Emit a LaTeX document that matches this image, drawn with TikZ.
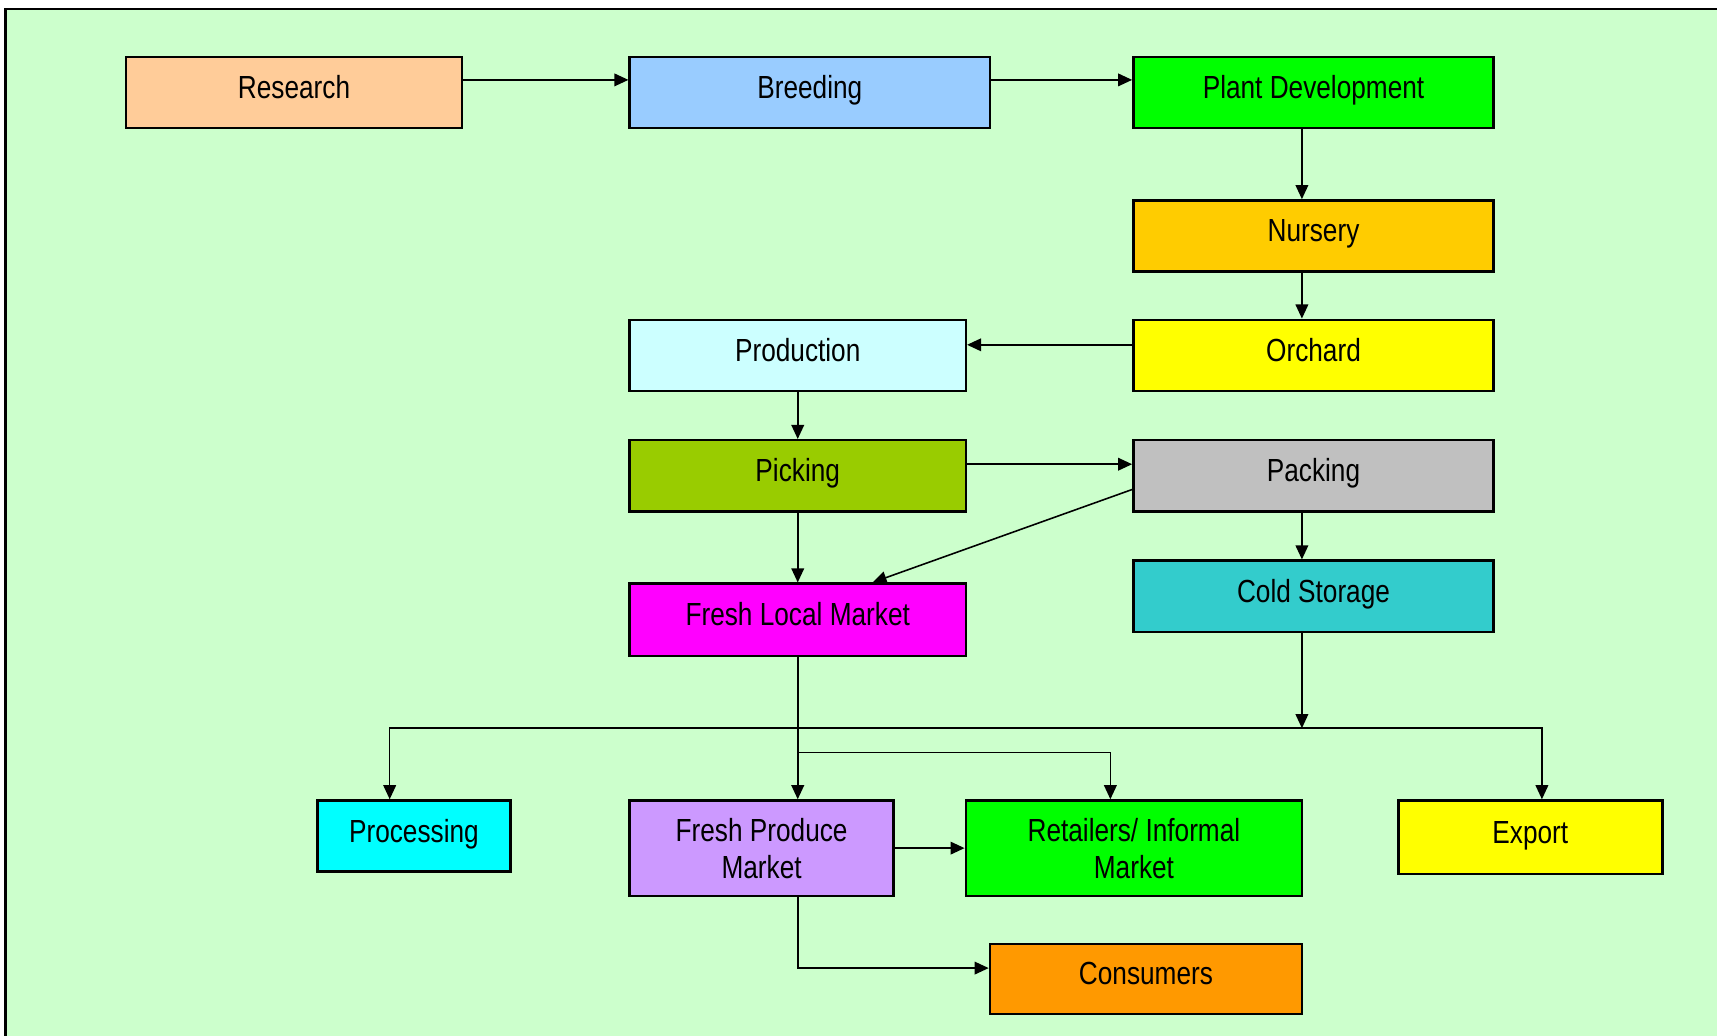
\documentclass[tikz,border=0pt]{standalone}
\usepackage{fontspec}
\setmainfont{Liberation Sans}[FakeStretch=0.82]
\usepackage{xcolor}
\usepackage{tikz}
\usetikzlibrary{arrows.meta,calc}
\definecolor{bgreen}{HTML}{CCFFCC}
\definecolor{cres}{HTML}{FFCC99}
\definecolor{cbre}{HTML}{99CCFF}
\definecolor{cgrn}{HTML}{00FF00}
\definecolor{cnur}{HTML}{FFCC00}
\definecolor{cyel}{HTML}{FFFF00}
\definecolor{cpro}{HTML}{CCFFFF}
\definecolor{cpic}{HTML}{99CC00}
\definecolor{cpac}{HTML}{C0C0C0}
\definecolor{ccold}{HTML}{33CCCC}
\definecolor{cflm}{HTML}{FF00FF}
\definecolor{cproc}{HTML}{00FFFF}
\definecolor{cfpm}{HTML}{CC99FF}
\definecolor{ccon}{HTML}{FF9900}
\def\pxu{0.01095cm}
\tikzset{
    blk/.style={draw, line width=0.7pt, inner sep=0pt, align=center, text height=6.4pt, text depth=3pt, font=\fontsize{9.1pt}{10.6pt}\selectfont},
    two/.style={text height=17.2pt, text depth=0pt},
    wh/.style 2 args={minimum width=#1*\pxu, minimum height=#2*\pxu},
    arr/.style={line width=0.45pt, -{Triangle[length=4pt,width=3.6pt]}}}

\begin{document}
\begin{tikzpicture}[x=0.01095cm,y=-0.01095cm]
\useasboundingbox (0,0) rectangle (1568,946);
\clip (0,0) rectangle (1568,946);
\draw[line width=0.7pt, fill=bgreen] (5,8) rectangle (1600,1000);

%boxes
\node[blk, wh={307}{65}, fill=cres] (res) at (268.5,84.5) {Research};
\node[blk, wh={329}{65}, fill=cbre] (bre) at (739.5,84.5) {Breeding};
\node[blk, wh={329}{65}, fill=cgrn] (pd) at (1199.5,84.5) {Plant Development};
\node[blk, wh={329}{65}, fill=cnur] (nur) at (1199.5,215.5) {Nursery};
\node[blk, wh={329}{65}, fill=cyel] (orc) at (1199.5,324.5) {Orchard};
\node[blk, wh={307}{65}, fill=cpro] (pro) at (728.5,324.5) {Production};
\node[blk, wh={307}{65}, fill=cpic] (pic) at (728.5,434.5) {Picking};
\node[blk, wh={329}{65}, fill=cpac] (pac) at (1199.5,434.5) {Packing};
\node[blk, wh={329}{65}, fill=ccold] (cold) at (1199.5,544.5) {Cold Storage};
\node[blk, wh={307}{66}, fill=cflm] (flm) at (728.5,566) {Fresh Local Market};
\node[blk, wh={176}{65}, fill=cproc] (proc) at (378,763.5) {Processing};
\node[blk, two, wh={241}{87}, fill=cfpm] (fpm) at (695.5,774.5) {Fresh Produce\\Market};
\node[blk, two, wh={307}{87}, fill=cgrn] (ret) at (1035.5,774.5) {Retailers/ Informal\\Market};
\node[blk, wh={241}{67}, fill=cyel] (exp) at (1397.5,764.5) {Export};
\node[blk, wh={285}{64}, fill=ccon] (con) at (1046.5,894) {Consumers};

\coordinate (bus) at (1189,665);
\coordinate (fork) at (728.5,687);

%connectors
\draw[arr] ([yshift=3.6pt]res.east) -- ([yshift=3.6pt]bre.west);
\draw[arr] ([yshift=3.6pt]bre.east) -- ([yshift=3.6pt]pd.west);
\draw[arr] ([xshift=-3.3pt]pd.south) -- ([xshift=-3.3pt]nur.north);
\draw[arr] ([xshift=-3.3pt]nur.south) -- ([xshift=-3.3pt]orc.north);
\draw[arr] ([yshift=3pt]orc.west) -- ([yshift=3pt]pro.east);
\draw[arr] (pro.south) -- (pic.north);
\draw[arr] ([yshift=3.3pt]pic.east) -- ([yshift=3.3pt]pac.west);
\draw[arr] ([yshift=-3.9pt]pac.west) -- ([xshift=21.3pt]flm.north);
\draw[arr] (pic.south) -- (flm.north);
\draw[arr] ([xshift=-3.3pt]pac.south) -- ([xshift=-3.3pt]cold.north);
\draw[arr] ([xshift=-3.3pt]cold.south) -- ([xshift=-3.3pt]cold.south |- bus);
\draw[arr] (bus) -| ([xshift=-6.9pt]proc.north);
\draw[arr] (bus) -| ([xshift=3.3pt]exp.north);
\draw[arr] (flm.south) -- (flm.south |- fpm.north);
\draw[arr] (fork) -| ([xshift=-6.7pt]ret.north);
\draw[arr] (fpm.east) -- (ret.west);
\draw[arr] ([xshift=10.4pt]fpm.south) |- ([yshift=3.1pt]con.west);
\end{tikzpicture}
\end{document}
